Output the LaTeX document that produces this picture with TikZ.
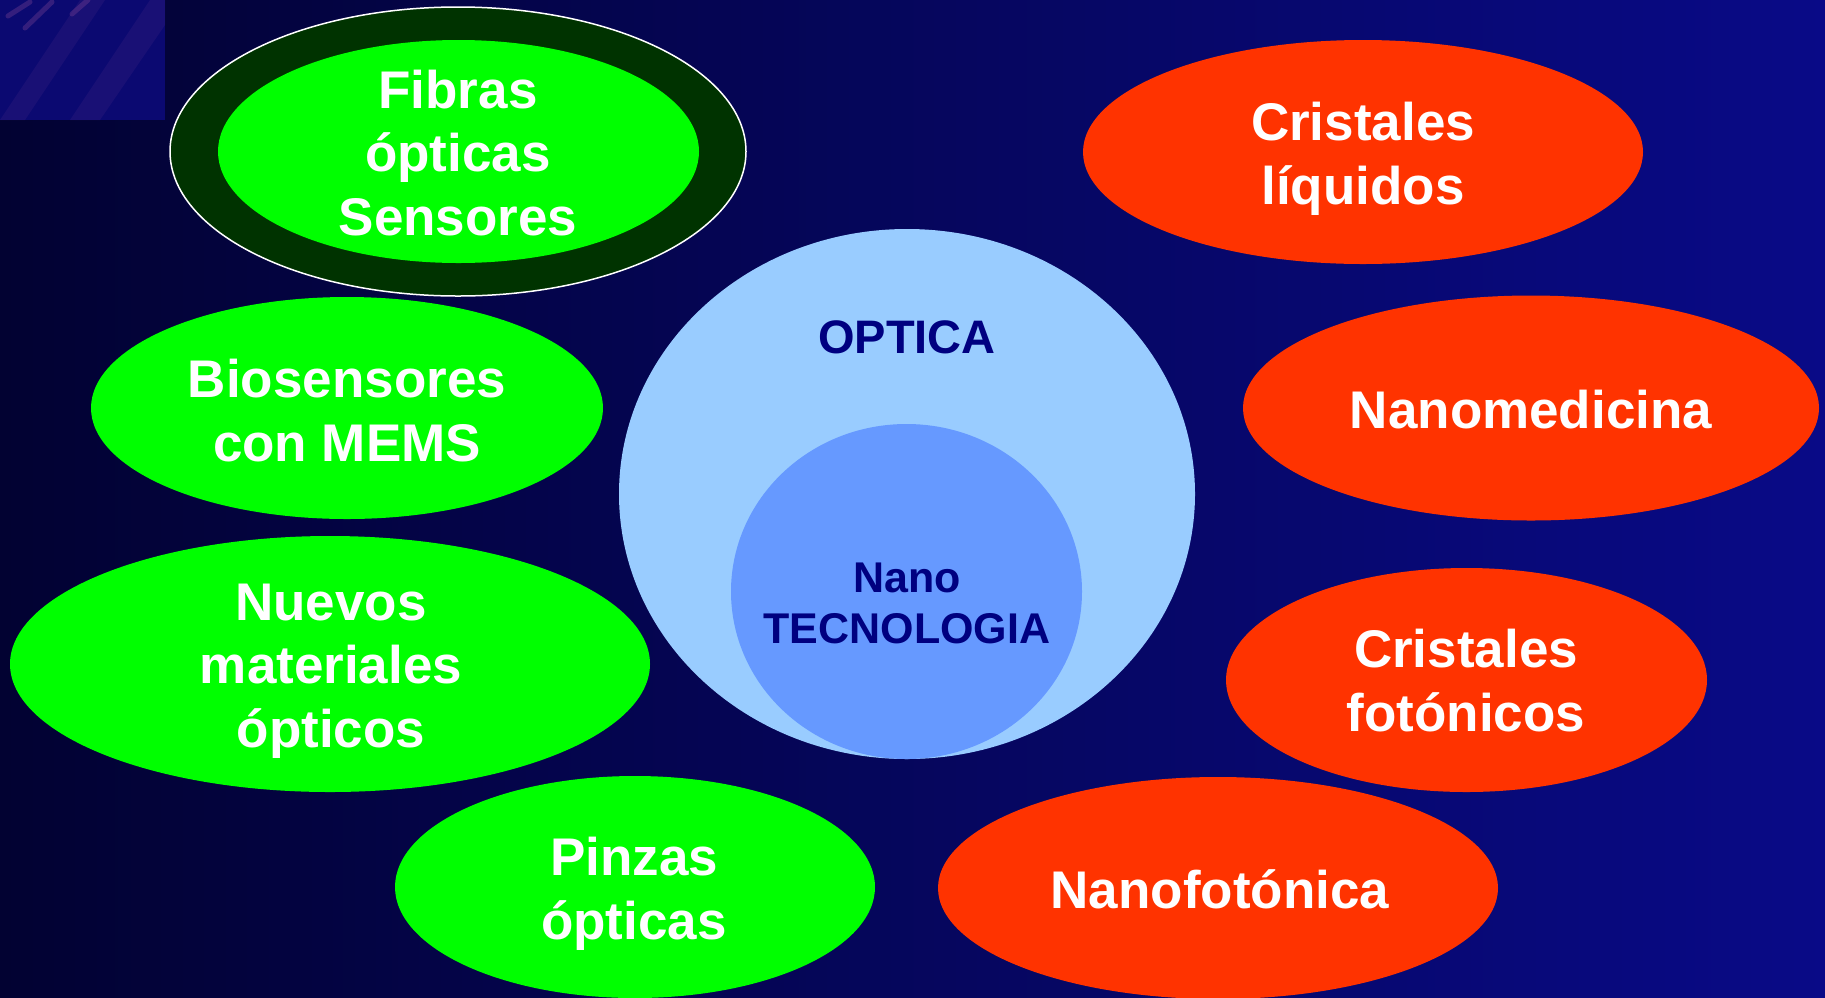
\documentclass[tikz,border=0pt]{standalone}
\usepackage{fontspec}
\setmainfont{Liberation Sans}
\usetikzlibrary{shapes.geometric}
\definecolor{bgL}{RGB}{2,2,50}
\definecolor{bgM}{RGB}{6,7,112}
\definecolor{bgR}{RGB}{9,10,135}
\definecolor{streak}{RGB}{130,70,150}
\definecolor{lgreen}{RGB}{0,255,0}
\definecolor{dgreen}{RGB}{0,51,0}
\definecolor{lred}{RGB}{255,51,0}
\definecolor{lblue}{RGB}{153,204,255}
\definecolor{mblue}{RGB}{102,153,255}
\definecolor{navytxt}{RGB}{0,0,128}
\tikzset{
  blob/.style={ellipse, inner sep=0pt, draw=none},
  greenblob/.style={blob, fill=lgreen},
  redblob/.style={blob, fill=lred},
  wlabel/.style={anchor=base, align=center, text=white, inner sep=0pt,
    font=\bfseries\fontsize{53}{63.5}\selectfont},
  blabel/.style={anchor=base, align=center, text=navytxt, inner sep=0pt,
    font=\bfseries\fontsize{43}{51}\selectfont},
}
\begin{document}
\begin{tikzpicture}[x=1pt,y=-1pt]
\useasboundingbox (0,0) rectangle (1825,997);
% background
\shade[left color=bgL, middle color=bgM, right color=bgR] (0,0) rectangle (1825,997);
\begin{scope}
  \clip (0,0) rectangle (165,120);
  \fill[bgM!96!streak] (0,0) rectangle (165,120);
  \fill[streak, opacity=0.12] (0,120) -- (25,120) -- (105,0) -- (80,0) -- cycle;
  \fill[streak, opacity=0.12] (70,120) -- (100,120) -- (165,25) -- (165,0) -- (150,0) -- cycle;
  \draw[streak, opacity=0.35, line width=5pt, line cap=round] (8,16) -- (30,2);
  \draw[streak, opacity=0.35, line width=5pt, line cap=round] (25,28) -- (52,2);
  \draw[streak, opacity=0.35, line width=5pt, line cap=round] (72,14) -- (88,0);
\end{scope}

% left side
\node[blob, fill=dgreen, draw=white, line width=1.5pt, minimum width=576pt, minimum height=289pt] (fibOut) at (458,151.5) {};
\node[greenblob, minimum width=481pt, minimum height=223pt] (fib) at (458.5,151.5) {};
\node[wlabel] (fibT) at (458,235) {Fibras\\ópticas\\Sensores};

\node[greenblob, minimum width=512pt, minimum height=222pt] (bio) at (347,408) {};
\node[wlabel] (bioT) at (347,461) {Biosensores\\con MEMS};

\node[greenblob, minimum width=640pt, minimum height=256pt] (nue) at (330,664) {};
\node[wlabel] (nueT) at (331,747) {Nuevos\\materiales\\ópticos};

\node[greenblob, minimum width=480pt, minimum height=222pt] (pin) at (635,887) {};
\node[wlabel] (pinT) at (634,939) {Pinzas\\ópticas};

% right side
\node[redblob, minimum width=560pt, minimum height=224pt] (liq) at (1363,152) {};
\node[wlabel] (liqT) at (1363,204) {Cristales\\líquidos};

\node[redblob, minimum width=576pt, minimum height=225pt] (med) at (1531,408) {};
\node[wlabel] (medT) at (1531,428) {Nanomedicina};

\node[redblob, minimum width=481pt, minimum height=224pt] (fot) at (1466.5,680) {};
\node[wlabel] (fotT) at (1466,731) {Cristales\\fotónicos};

\node[redblob, minimum width=560pt, minimum height=222pt] (nfo) at (1218,888) {};
\node[wlabel] (nfoT) at (1220,908) {Nanofotónica};

% centre
\node[blob, fill=lblue, minimum width=576pt, minimum height=530pt] (opt) at (907,494) {};
\node[blob, fill=mblue, minimum width=351pt, minimum height=335pt] (nano) at (906.5,591.5) {};
\node[blabel, font=\bfseries\fontsize{47}{51}\selectfont] (optT) at (907,353.5) {OPTICA};
\node[blabel] (nanoT) at (907,643) {Nano\\TECNOLOGIA};
\end{tikzpicture}
\end{document}
